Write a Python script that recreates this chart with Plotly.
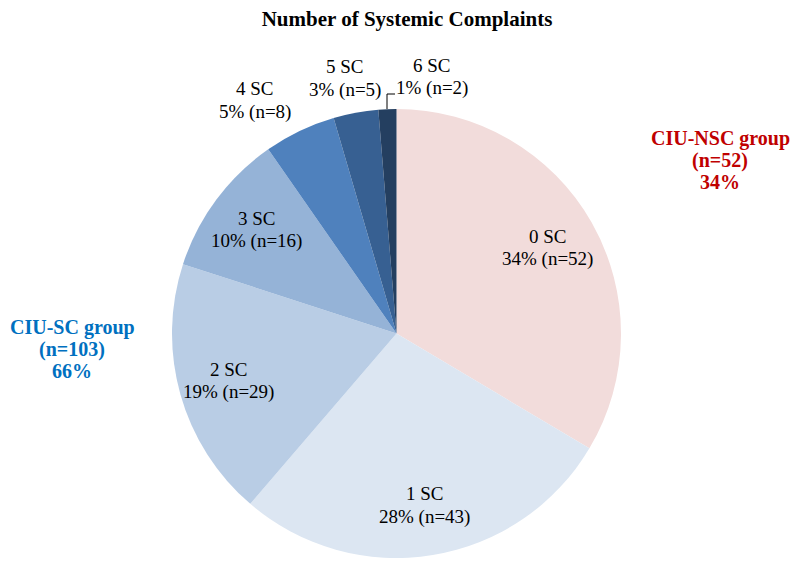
import math
import plotly.graph_objects as go

# Data
categories = ['0 SC', '1 SC', '2 SC', '3 SC', '4 SC', '5 SC', '6 SC']
counts = [52, 43, 29, 16, 8, 5, 2]
colors = ['#F2DCDB', '#DCE6F2', '#B9CDE5', '#95B3D7', '#4F81BD', '#376092', '#243F60']
groups = [('CIU-NSC group', '(n=52)', '34%', '#C00000'),
          ('CIU-SC group', '(n=103)', '66%', '#0070C0')]

# page body has an 8px margin, so the figure is 8px smaller and
# positions below are given in window pixels
OFF = 8
W, H = 800 - OFF, 566 - OFF
FONT = 'Liberation Serif'

# pie geometry in window pixels
cx, cy, R = 396.5, 333.5, 224.5


def px(x):
    return (x - OFF) / W


def py(y):
    return 1 - (y - OFF) / H


total = sum(counts)
pct = [round(100 * c / total) for c in counts]

fig = go.Figure(go.Pie(
    labels=categories, values=counts, sort=False, direction='clockwise',
    rotation=0, marker=dict(colors=colors, line=dict(width=0)),
    textinfo='none', hoverinfo='label+percent+value', showlegend=False,
    domain=dict(x=[px(cx - R), px(cx + R)], y=[py(cy + R), py(cy - R)]),
))

annotations = []


def two_lines(x, y, l1, l2, size=19, gap=23):
    for t, dy in [(l1, -gap / 2), (l2, gap / 2)]:
        annotations.append(dict(x=px(x), y=py(y + dy), text=t, showarrow=False,
                                xref='paper', yref='paper', xanchor='center', yanchor='middle',
                                font=dict(family=FONT, size=size, color='black')))


# inside labels at mid-angle of each big slice
cum = 0
outside_pos = {4: (255, 100), 5: (345, 78), 6: (432, 77)}
for i, (cat, c) in enumerate(zip(categories, counts)):
    mid = (cum + c / 2) / total * 2 * math.pi
    cum += c
    line2 = f'{pct[i]}% (n={c})'
    if i < 4:
        r = 0.775 * R
        two_lines(cx + r * math.sin(mid), cy - r * math.cos(mid), cat, line2)
    else:
        x, y = outside_pos[i]
        two_lines(x, y, cat, line2)

# group labels
group_pos = [(720, 160), (72, 349)]
for (a, b, c, col), (x, y) in zip(groups, group_pos):
    for k, t in enumerate([a, b, c]):
        annotations.append(dict(x=px(x), y=py(y + (k - 1) * 22), text=f'<b>{t}</b>',
                                showarrow=False, xref='paper', yref='paper',
                                xanchor='center', yanchor='middle',
                                font=dict(family=FONT, size=20, color=col)))

# leader line for 6 SC
shapes = [dict(type='path', xref='paper', yref='paper',
               path=f'M {px(387)} {py(109)} L {px(387)} {py(94)} L {px(395)} {py(94)}',
               line=dict(color='black', width=1))]

fig.update_layout(
    width=W, height=H,
    margin=dict(l=0, r=0, t=0, b=0),
    paper_bgcolor='white', plot_bgcolor='white',
    title=dict(text='<b>Number of Systemic Complaints</b>', x=px(407), xanchor='center',
               y=py(19), yanchor='middle', font=dict(family=FONT, size=21, color='black')),
    annotations=annotations, shapes=shapes,
)

fig.write_html('out.html')
